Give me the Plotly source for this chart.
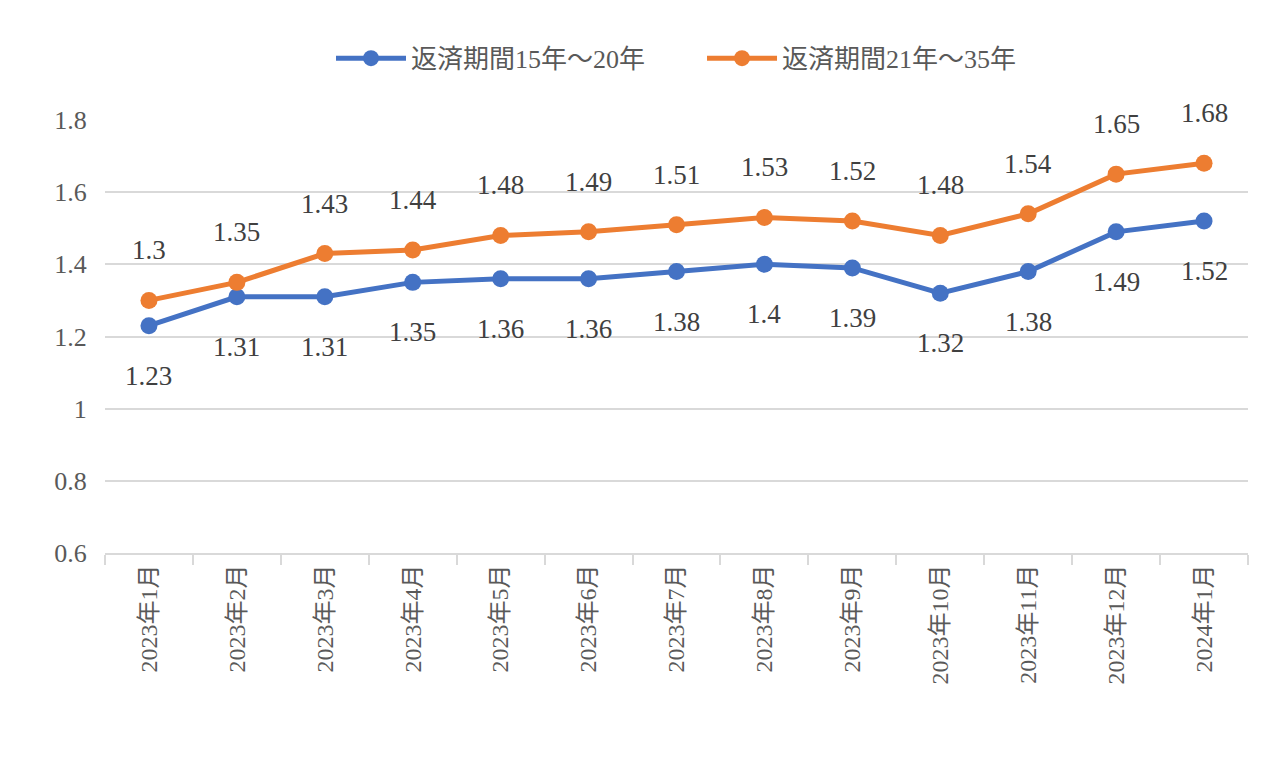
import plotly.graph_objects as go

months = ["2023年1月","2023年2月","2023年3月","2023年4月","2023年5月","2023年6月","2023年7月",
          "2023年8月","2023年9月","2023年10月","2023年11月","2023年12月","2024年1月"]
s1_name = "返済期間15年～20年"
s2_name = "返済期間21年～35年"
s1 = [1.23,1.31,1.31,1.35,1.36,1.36,1.38,1.4,1.39,1.32,1.38,1.49,1.52]
s2 = [1.3,1.35,1.43,1.44,1.48,1.49,1.51,1.53,1.52,1.48,1.54,1.65,1.68]

font = "Liberation Serif, Noto Sans CJK JP"
fig = go.Figure()
fig.add_trace(go.Scatter(x=months, y=s1, name=s1_name + "        ", mode="lines+markers",
    line=dict(color="#4472C4", width=5), marker=dict(size=17, color="#4472C4")))
fig.add_trace(go.Scatter(x=months, y=s2, name=s2_name, mode="lines+markers",
    line=dict(color="#ED7D31", width=5), marker=dict(size=17, color="#ED7D31")))
for m, v in zip(months, s1):
    fig.add_annotation(x=m, y=v, text=str(v), showarrow=False, yshift=-50,
                       font=dict(size=27, color="#404040", family=font))
for m, v in zip(months, s2):
    fig.add_annotation(x=m, y=v, text=str(v), showarrow=False, yshift=50,
                       font=dict(size=27, color="#404040", family=font))
fig.update_layout(
    width=1280, height=766, plot_bgcolor="white", paper_bgcolor="white",
    margin=dict(l=97, r=40, t=112, b=221),
    font=dict(family=font, size=24, color="#595959"),
    legend=dict(orientation="h", x=0.5, xanchor="center", y=0.965, yanchor="top",
                yref="container", font=dict(size=26, color="#595959", family=font),
                itemwidth=70),
    showlegend=True,
)
fig.update_yaxes(range=[0.6, 1.8], dtick=0.2, showgrid=True, gridcolor="#D9D9D9", gridwidth=2,
                 zeroline=False, tickformat="~g", ticks="outside", ticklen=12, tickcolor="white",
                 tickfont=dict(size=26, family=font, color="#595959"), automargin=False)
fig.update_xaxes(tickangle=-90, showline=True, linecolor="#D9D9D9", linewidth=2,
                 ticks="outside", tickson="boundaries", tickcolor="#D9D9D9", ticklen=10, tickwidth=2,
                 range=[-0.5, 12.5], automargin=False,
                 tickfont=dict(size=24, family=font, color="#595959"))
fig.write_html("out.html")
